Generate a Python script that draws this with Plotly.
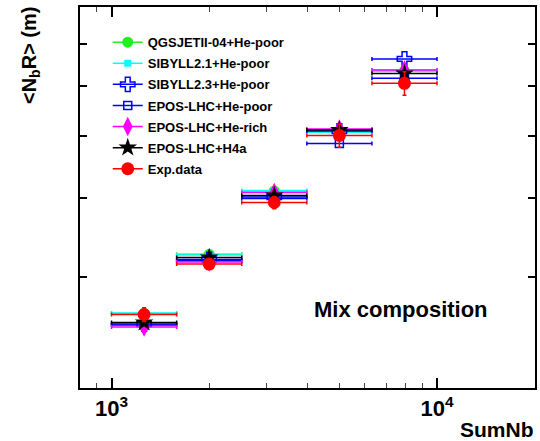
import plotly.graph_objects as go

# SumNb bins (log10 bin width 0.2)
sumnb_center = [1259, 1995, 3162, 5012, 7943]
sumnb_low = [1000, 1585, 2512, 3981, 6310]
sumnb_high = [1585, 2512, 3981, 6310, 10000]

qgsjet_hepoor = [26.22, 32.53, 40.96, 50.86, 63.39]
sibyll21_hepoor = [26.27, 32.45, 41.03, 50.71, 63.62]
sibyll23_hepoor = [25.24, 31.92, 40.07, 50.95, 66.22]
epos_hepoor = [25.15, 31.78, 39.85, 48.68, 61.73]
epos_herich = [24.97, 31.63, 40.73, 51.32, 63.62]
epos_h4a = [25.38, 32.15, 40.29, 51.14, 62.81]
exp_data = [26.13, 31.40, 39.28, 50.12, 60.61]
exp_err = [0.66, 0.46, 0.87, 2.1, 2.6]

y_ticks = [30, 40, 50, 60, 70]
x_major = [1000, 10000]
x_major_text = ["10<sup>3</sup>", "10<sup>4</sup>"]
x_minor = [900, 2000, 3000, 4000, 5000, 6000, 7000, 8000, 9000, 20000]

FONT = "Liberation Sans, Arial, Helvetica, sans-serif"

series = [
    ("QGSJETII-04+He-poor", qgsjet_hepoor, "#22ee22", dict(symbol="circle", size=11)),
    ("SIBYLL2.1+He-poor", sibyll21_hepoor, "#00ffff", dict(symbol="square", size=7)),
    ("SIBYLL2.3+He-poor", sibyll23_hepoor, "#0000ff", dict(symbol="cross-open", size=12, line=dict(width=1.5))),
    ("EPOS-LHC+He-poor", epos_hepoor, "#0000ff", dict(symbol="square-open", size=8, line=dict(width=1.5))),
    ("EPOS-LHC+He-rich", epos_herich, "#ff00ff", dict(symbol="diamond-tall", size=14)),
    ("EPOS-LHC+H4a", epos_h4a, "#000000", dict(symbol="star", size=14)),
]

xplus = [h - c for h, c in zip(sumnb_high, sumnb_center)]
xminus = [c - l for c, l in zip(sumnb_center, sumnb_low)]

fig = go.Figure()

for name, vals, color, mk in series:
    m = dict(mk)
    m["color"] = color
    fig.add_trace(go.Scatter(
        x=sumnb_center, y=vals, mode="markers", marker=m, showlegend=False,
        error_x=dict(type="data", array=xplus, arrayminus=xminus, color=color,
                     thickness=1.5, width=2),
    ))

fig.add_trace(go.Scatter(
    x=sumnb_center, y=exp_data, mode="markers",
    marker=dict(symbol="circle", size=13, color="#ff0000"), showlegend=False,
    error_x=dict(type="data", array=xplus, arrayminus=xminus, color="#ff0000",
                 thickness=1.5, width=2),
    error_y=dict(type="data", array=exp_err, color="#ff0000", thickness=1.5, width=2),
))

# legend entries (line + marker style)
for i, (name, vals, color, mk) in enumerate(series):
    m = dict(mk)
    m["color"] = color
    fig.add_trace(go.Scatter(x=[None], y=[None], mode="lines+markers", name=name,
                             legendgroup=f"g{i}",
                             marker=m, line=dict(color=color, width=1.5)))
fig.add_trace(go.Scatter(x=[None], y=[None], mode="lines+markers", name="Exp.data",
                         legendgroup="g9",
                         marker=dict(symbol="circle", size=13, color="#ff0000"),
                         line=dict(color="#ff0000", width=1.5)))

fig.update_layout(
    width=540, height=441,
    margin=dict(l=80, r=3, t=7, b=53),
    paper_bgcolor="white", plot_bgcolor="white",
    font=dict(family=FONT, color="black"),
    legend=dict(x=0.061, y=0.947, xanchor="left", yanchor="top",
                bgcolor="rgba(0,0,0,0)", font=dict(size=13, weight="bold", family=FONT),
                itemsizing="trace", tracegroupgap=1.2, traceorder="grouped"),
    annotations=[
        dict(text="Mix composition", x=0.705, y=0.205, xref="paper", yref="paper",
             showarrow=False, font=dict(size=22, weight="bold", family=FONT),
             xanchor="center", yanchor="middle"),
        dict(text="SumNb", x=1.003, y=-0.11, xref="paper", yref="paper",
             showarrow=False, font=dict(size=21, weight="bold", family=FONT),
             xanchor="right", yanchor="middle"),
        dict(text="&lt;N<sub>b</sub>R&gt; (m)", x=-0.109, y=1.005, xref="paper", yref="paper",
             showarrow=False, textangle=-90, font=dict(size=20, weight="bold", family=FONT),
             xanchor="center", yanchor="top"),
    ],
)

fig.update_xaxes(
    type="log", range=[2.90309, 4.30103],
    showline=True, linecolor="black", linewidth=2, mirror="ticks",
    showgrid=False, zeroline=False,
    tickmode="array", tickvals=x_major, ticktext=x_major_text,
    ticks="inside", ticklen=10, tickwidth=1.5, tickcolor="black",
    tickfont=dict(size=22, weight="bold", family=FONT),
    minor=dict(tickmode="array", tickvals=x_minor, ticks="inside", ticklen=5,
               tickwidth=1, tickcolor="#444444", showgrid=False),
)
fig.update_yaxes(
    type="log", range=[1.30103, 1.90309],
    showline=True, linecolor="black", linewidth=2, mirror="ticks",
    showgrid=False, zeroline=False,
    tickmode="array", tickvals=y_ticks, showticklabels=False,
    ticks="inside", ticklen=7, tickwidth=1.5, tickcolor="black",
)

fig.write_html("out.html", config={"displayModeBar": False},
               post_script="document.body.style.margin='0';document.body.style.padding='0';")
